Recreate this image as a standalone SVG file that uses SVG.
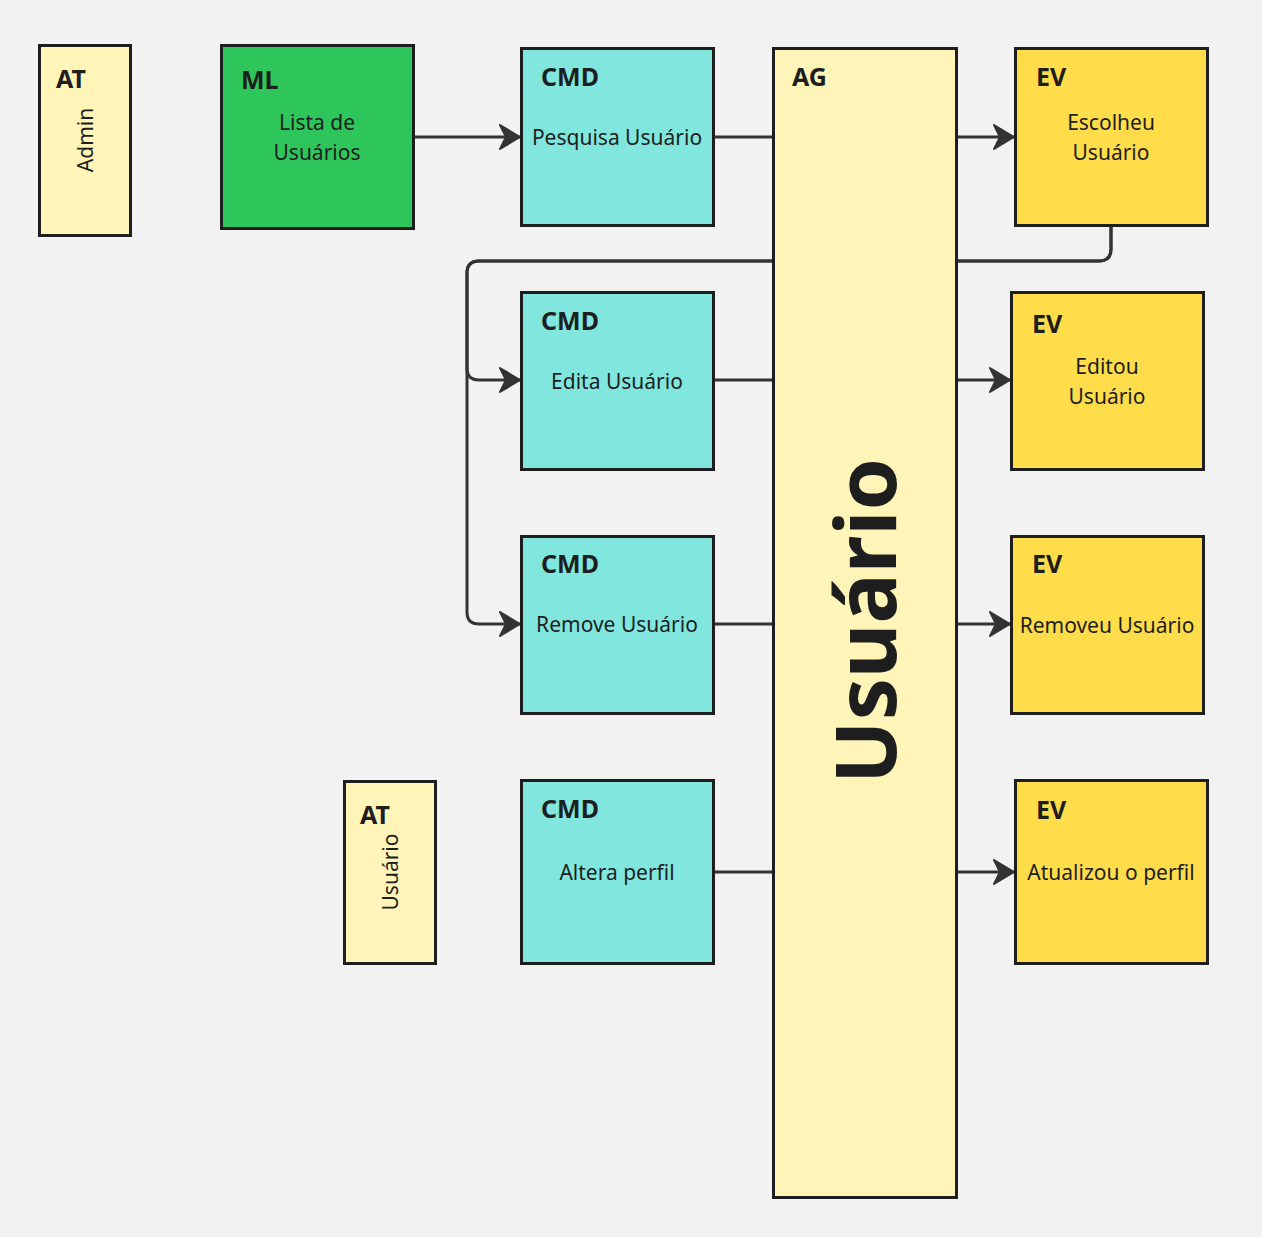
<svg xmlns="http://www.w3.org/2000/svg" width="1262" height="1237" viewBox="0 0 1262 1237">
<style>
.n{stroke:#1e1e1e;stroke-width:3}
.at{fill:#fff5b8}
.ml{fill:#2ec55a}
.cmd{fill:#80e6de}
.ev{fill:#ffdc4a}
.ag{fill:#fff5b8}
.t{font-family:"Noto Sans","Open Sans",sans-serif;font-weight:700;font-size:25px;fill:#1e1e1e}
.b{font-family:"Noto Sans","Open Sans",sans-serif;font-size:21px;fill:#1e1e1e;text-anchor:middle}
.c{fill:none;stroke:#333;stroke-width:3;stroke-linejoin:round}
</style>
<defs>
<marker id="ar" markerUnits="userSpaceOnUse" markerWidth="26" markerHeight="30" viewBox="0 0 26 30" refX="23" refY="15" orient="auto">
<path d="M3,3 L23,15 L3,27 L9,15 Z" fill="#333" stroke="#333" stroke-width="2" stroke-linejoin="round"/>
</marker>
</defs>
<rect width="1262" height="1237" fill="#f2f2f2"/>
<g id="connectors">
<path class="c" d="M413,137 H520" marker-end="url(#ar)"/>
<path class="c" d="M713,137 H773"/>
<path class="c" d="M956,137 H1014" marker-end="url(#ar)"/>
<path class="c" d="M1111,225 V249 Q1111,261 1099,261 H479 Q467,261 467,273 V368 Q467,380 479,380 H520" marker-end="url(#ar)"/>
<path class="c" d="M1111,225 V249 Q1111,261 1099,261 H479 Q467,261 467,273 V612 Q467,624 479,624 H520" marker-end="url(#ar)"/>
<path class="c" d="M713,380 H773"/>
<path class="c" d="M956,380 H1010" marker-end="url(#ar)"/>
<path class="c" d="M713,624 H773"/>
<path class="c" d="M956,624 H1010" marker-end="url(#ar)"/>
<path class="c" d="M713,872 H773"/>
<path class="c" d="M956,872 H1014" marker-end="url(#ar)"/>
</g>
<g id="at-admin">
<rect class="n at" x="39.5" y="45.5" width="91" height="190"/>
<text class="t" x="56" y="88">AT</text>
<text class="b" transform="translate(93,140) rotate(-90)">Admin</text>
</g>
<g id="ml-lista">
<rect class="n ml" x="221.5" y="45.5" width="192" height="183"/>
<text class="t" x="241" y="89">ML</text>
<text class="b" x="317" y="130">Lista de</text>
<text class="b" x="317" y="160">Usuários</text>
</g>
<g id="cmd-pesquisa">
<rect class="n cmd" x="521.5" y="48.5" width="192" height="177"/>
<text class="t" x="541" y="86">CMD</text>
<text class="b" x="617" y="145">Pesquisa Usuário</text>
</g>
<g id="ag-usuario">
<rect class="n ag" x="773.5" y="48.5" width="183" height="1149"/>
<text class="t" x="792" y="86">AG</text>
<text transform="translate(896,621) rotate(-90)" text-anchor="middle" font-family="Noto Sans, Open Sans, sans-serif" font-weight="700" font-size="84" fill="#1e1e1e">Usuário</text>
</g>
<g id="ev-escolheu">
<rect class="n ev" x="1015.5" y="48.5" width="192" height="177"/>
<text class="t" x="1036" y="86">EV</text>
<text class="b" x="1111" y="130">Escolheu</text>
<text class="b" x="1111" y="160">Usuário</text>
</g>
<g id="cmd-edita">
<rect class="n cmd" x="521.5" y="292.5" width="192" height="177"/>
<text class="t" x="541" y="330">CMD</text>
<text class="b" x="617" y="389">Edita Usuário</text>
</g>
<g id="ev-editou">
<rect class="n ev" x="1011.5" y="292.5" width="192" height="177"/>
<text class="t" x="1032" y="333">EV</text>
<text class="b" x="1107" y="374">Editou</text>
<text class="b" x="1107" y="404">Usuário</text>
</g>
<g id="cmd-remove">
<rect class="n cmd" x="521.5" y="536.5" width="192" height="177"/>
<text class="t" x="541" y="573">CMD</text>
<text class="b" x="617" y="632">Remove Usuário</text>
</g>
<g id="ev-removeu">
<rect class="n ev" x="1011.5" y="536.5" width="192" height="177"/>
<text class="t" x="1032" y="573">EV</text>
<text class="b" x="1107" y="633">Removeu Usuário</text>
</g>
<g id="at-usuario">
<rect class="n at" x="344.5" y="781.5" width="91" height="182"/>
<text class="t" x="360" y="824">AT</text>
<text class="b" transform="translate(398,872) rotate(-90)">Usuário</text>
</g>
<g id="cmd-altera">
<rect class="n cmd" x="521.5" y="780.5" width="192" height="183"/>
<text class="t" x="541" y="818">CMD</text>
<text class="b" x="617" y="880">Altera perfil</text>
</g>
<g id="ev-atualizou">
<rect class="n ev" x="1015.5" y="780.5" width="192" height="183"/>
<text class="t" x="1036" y="819">EV</text>
<text class="b" x="1111" y="880">Atualizou o perfil</text>
</g>
</svg>
